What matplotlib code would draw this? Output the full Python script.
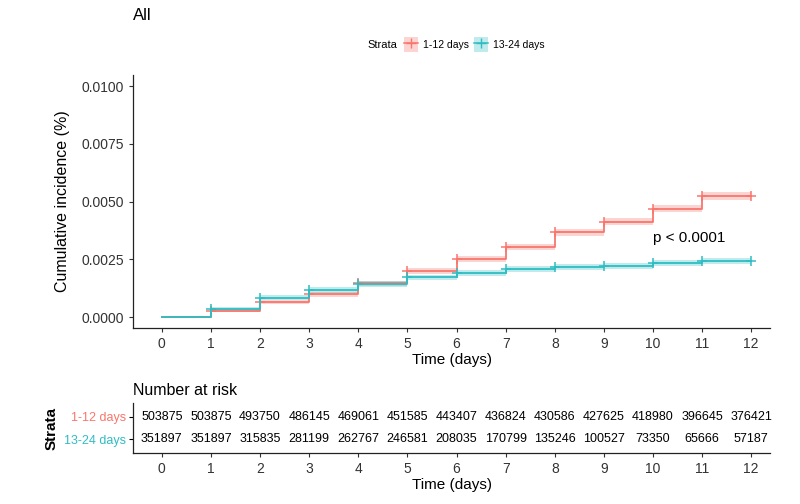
import numpy as np
import matplotlib.pyplot as plt
from matplotlib.lines import Line2D
from matplotlib.patches import Patch

plt.rcParams['font.family'] = ['Liberation Sans', 'DejaVu Sans']

# data
times = [0, 1, 2, 3, 4, 5, 6, 7, 8, 9, 10, 11, 12]
strata = ["1-12 days", "13-24 days"]
colors = ["#F8766D", "#2FBDC3"]

# cumulative incidence level at each time (step starts)
inc_a = [0.0, 0.00027, 0.00064, 0.00098, 0.00146, 0.00199, 0.00250,
         0.00304, 0.00367, 0.00413, 0.00470, 0.00524, 0.00524]
inc_b = [0.0, 0.00035, 0.00084, 0.00117, 0.00143, 0.00172, 0.00192,
         0.00208, 0.00218, 0.00222, 0.00234, 0.00242, 0.00242]
# half width of the confidence band
ci_a = [0.0, 0.00006, 0.00008, 0.0001, 0.00011, 0.00012, 0.00013,
        0.00014, 0.00015, 0.00015, 0.00016, 0.00017, 0.00017]
ci_b = [0.0, 0.00008, 0.0001, 0.00011, 0.00012, 0.00012, 0.00013,
        0.00013, 0.00013, 0.00013, 0.00014, 0.00014, 0.00014]

risk_a = [503875, 503875, 493750, 486145, 469061, 451585, 443407,
          436824, 430586, 427625, 418980, 396645, 376421]
risk_b = [351897, 351897, 315835, 281199, 262767, 246581, 208035,
          170799, 135246, 100527, 73350, 65666, 57187]

fig = plt.figure(figsize=(8, 5.04), dpi=100)
ax = fig.add_axes([0.166, 0.349, 0.797, 0.502])
axr = fig.add_axes([0.166, 0.101, 0.797, 0.099])

txt = "#333333"

for inc, ci, col in [(inc_a, ci_a, colors[0]), (inc_b, ci_b, colors[1])]:
    inc = np.array(inc)
    ci = np.array(ci)
    ax.fill_between(times, inc - ci, inc + ci, step="post", color=col,
                    alpha=0.3, linewidth=0)
    ax.step(times, inc, where="post", color=col, linewidth=1.3)
    ax.plot(times[1:], inc[1:], linestyle="none", marker="+", ms=7,
            mew=1.1, color=col)

ax.text(10, 0.00342, "p < 0.0001", fontsize=11, color="black",
        ha="left", va="center")

ax.set_xlim(-0.59, 12.39)
ax.set_ylim(-0.00048, 0.01048)
ax.set_xticks(times)
ax.set_yticks([0.0, 0.0025, 0.005, 0.0075, 0.01])
ax.set_yticklabels(["0.0000", "0.0025", "0.0050", "0.0075", "0.0100"])
ax.set_xlabel("Time (days)", fontsize=11, labelpad=1)
ax.set_ylabel("Cumulative incidence (%)", fontsize=11.5, labelpad=8)
for s in ["top", "right"]:
    ax.spines[s].set_visible(False)
for s in ["left", "bottom"]:
    ax.spines[s].set_linewidth(0.9)
    ax.spines[s].set_color("#222222")
ax.tick_params(labelsize=10, colors=txt, length=3, width=0.8)
fig.text(0.166, 0.97, "All", fontsize=12, ha="left", va="center")

# legend on top
handles = [(Patch(facecolor=c, alpha=0.3, edgecolor="none"),
            Line2D([], [], color=c, marker="+", ms=7, lw=1.1)) for c in colors]
leg = fig.legend(handles, strata, loc="center left", bbox_to_anchor=(0.505, 0.911),
                 ncol=2, frameon=False, fontsize=7.5, handlelength=1.3,
                 handleheight=1.8, columnspacing=0.5, handletextpad=0.5,
                 borderaxespad=0, borderpad=0)
fig.text(0.497, 0.911, "Strata", fontsize=8, ha="right", va="center")

# number at risk table
for row, (risk, col) in enumerate([(risk_a, colors[0]), (risk_b, colors[1])]):
    ypos = 2 - row
    for t, r in zip(times, risk):
        axr.text(t, ypos, str(r), ha="center", va="center", fontsize=9,
                 color="black")
axr.set_xlim(-0.59, 12.39)
axr.set_ylim(0.4, 2.6)
axr.set_xticks(times)
axr.set_yticks([2, 1])
axr.set_yticklabels(strata, fontsize=9)
for lab, col in zip(axr.get_yticklabels(), colors):
    lab.set_color(col)
axr.tick_params(axis="x", labelsize=10, colors=txt, length=3, width=0.8)
axr.tick_params(axis="y", length=3, width=0.8, pad=2)
for s in ["top", "right"]:
    axr.spines[s].set_visible(False)
for s in ["left", "bottom"]:
    axr.spines[s].set_linewidth(0.9)
    axr.spines[s].set_color("#222222")
axr.set_xlabel("Time (days)", fontsize=11, labelpad=1)
axr.set_ylabel("Strata", fontsize=11, fontweight="bold", labelpad=4)
axr.set_title("Number at risk", loc="left", fontsize=11.5, pad=6)

fig.savefig("out.png", dpi=100)
